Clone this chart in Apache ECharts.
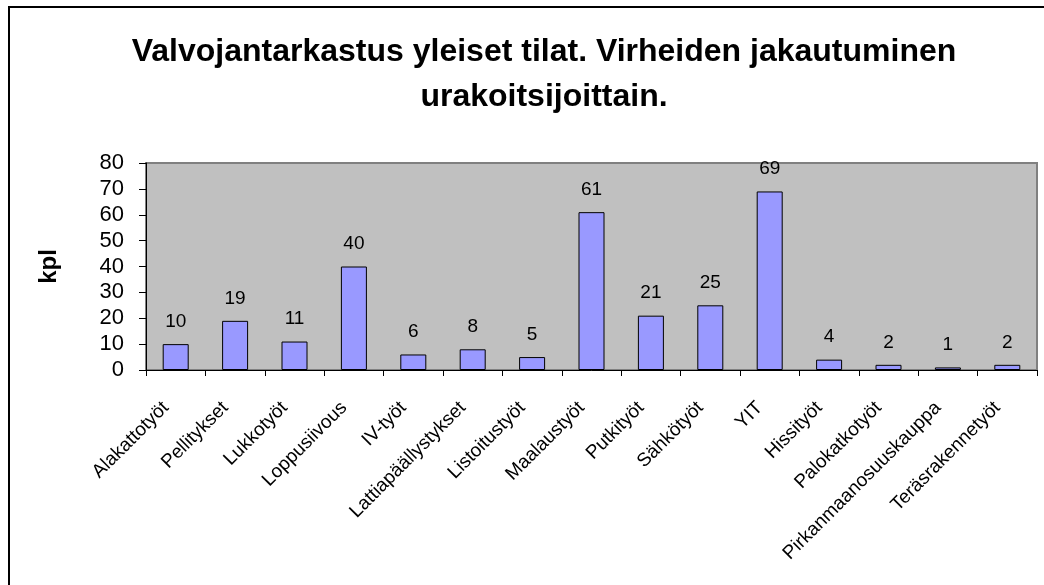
<!DOCTYPE html>
<html>
<head>
<meta charset="utf-8">
<script src="https://cdn.jsdelivr.net/npm/echarts@6/dist/echarts.min.js"></script>
<style>
  html, body { margin: 0; padding: 0; background: #fff; }
  #chart { width: 1044px; height: 585px; }
</style>
</head>
<body>
<div id="chart"></div>
<script>
// urakoitsijat ja virheiden määrät
var categories = ['Alakattotyöt', 'Pellitykset', 'Lukkotyöt', 'Loppusiivous', 'IV-työt',
  'Lattiapäällystykset', 'Listoitustyöt', 'Maalaustyöt', 'Putkityöt', 'Sähkötyöt',
  'YIT', 'Hissityöt', 'Palokatkotyöt', 'Pirkanmaanosuuskauppa', 'Teräsrakennetyöt'];
var counts = [10, 19, 11, 40, 6, 8, 5, 61, 21, 25, 69, 4, 2, 1, 2];
var yTicks = [0, 10, 20, 30, 40, 50, 60, 70, 80];

var font = 'Arial, "Liberation Sans", sans-serif';

var myChart = echarts.init(document.getElementById('chart'));
var option = {
    backgroundColor: '#fff',
    animation: false,
    title: {
        text: 'Valvojantarkastus yleiset tilat. Virheiden jakautuminen\nurakoitsijoittain.',
        left: 539,
        top: 25,
        textAlign: 'center',
        textStyle: {
            fontFamily: font,
            fontSize: 32,
            fontWeight: 'bold',
            color: '#000',
            lineHeight: 45
        }
    },
    graphic: [{
        // ulkoreunus (kuva on rajattu oikealta ja alhaalta)
        type: 'rect',
        shape: { x: 9, y: 7, width: 1200, height: 800 },
        style: { fill: 'none', stroke: '#000', lineWidth: 2 },
        silent: true,
        z: -1
    }],
    grid: {
        left: 146,
        right: 7,
        top: 163,
        bottom: 215,
        show: true,
        backgroundColor: '#C0C0C0',
        borderColor: '#808080',
        borderWidth: 2
    },
    xAxis: {
        type: 'category',
        data: categories,
        axisLine: { lineStyle: { color: '#000', width: 1 } },
        axisTick: { show: true, length: 6, lineStyle: { color: '#000' } },
        axisLabel: {
            rotate: 45,
            interval: 0,
            margin: 25,
            padding: [0, 14, 0, 0],
            fontFamily: font,
            fontSize: 19,
            color: '#000'
        }
    },
    yAxis: {
        type: 'value',
        min: yTicks[0],
        max: yTicks[yTicks.length - 1],
        interval: 10,
        name: 'kpl',
        nameLocation: 'middle',
        nameGap: 85,
        nameRotate: 90,
        nameTextStyle: { fontFamily: font, fontSize: 24, fontWeight: 'bold', color: '#000' },
        axisLine: { show: true, lineStyle: { color: '#000', width: 1 } },
        axisTick: { show: true, length: 7, lineStyle: { color: '#000' } },
        splitLine: { show: false },
        axisLabel: {
            margin: 22,
            fontFamily: font,
            fontSize: 22,
            color: '#000'
        }
    },
    series: [{
        name: 'kpl',
        type: 'bar',
        data: counts,
        barWidth: 26,
        itemStyle: { color: '#9999FF', borderColor: '#000', borderWidth: 1 },
        label: {
            show: true,
            position: 'top',
            distance: 13,
            fontFamily: font,
            fontSize: 19,
            color: '#000'
        }
    }]
};
myChart.setOption(option);
</script>
</body>
</html>
